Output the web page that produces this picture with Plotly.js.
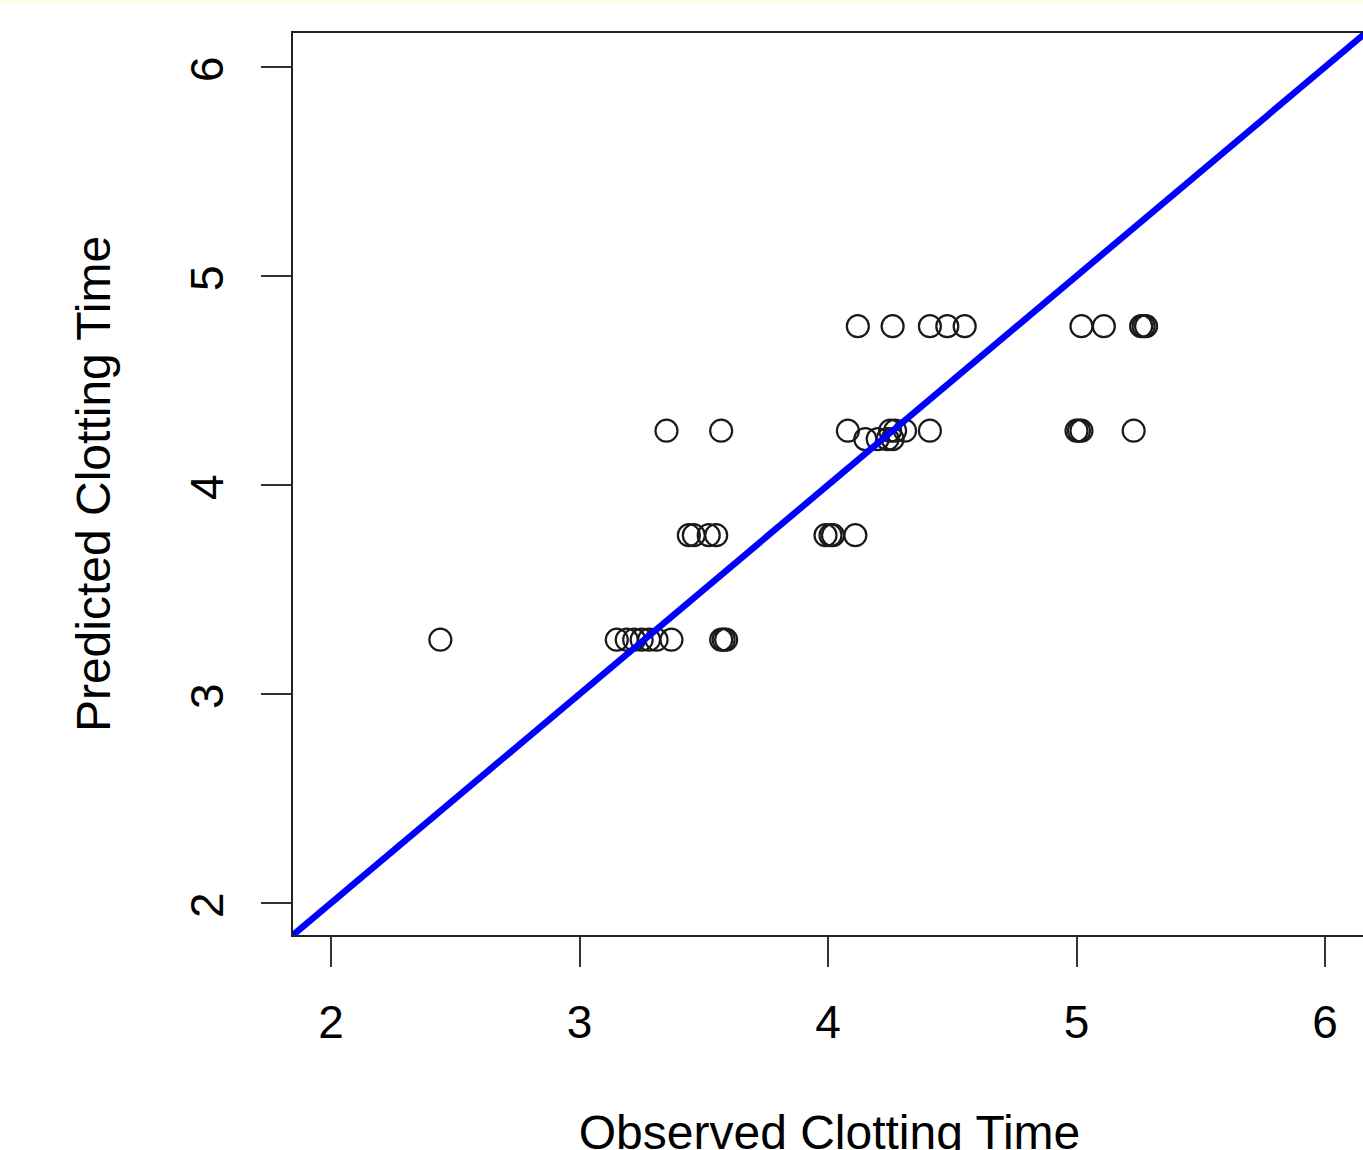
<!DOCTYPE html>
<html>
<head>
<meta charset="utf-8">
<script src="https://cdn.plot.ly/plotly-3.0.1.min.js"></script>
<style>
  html, body { margin: 0; padding: 0; background: #ffffff; overflow: hidden; }
  #topstrip { position: absolute; left: 0; top: 0; width: 1363px; height: 4px; background: #fdfbe4; z-index: 5; }
  #chart { position: absolute; left: 0; top: 0; }
</style>
</head>
<body>
<div id="topstrip"></div>
<div id="chart"></div>
<script>
// Observed vs predicted clotting times
const observed = [
  2.44, 3.15, 3.19, 3.22, 3.25, 3.28, 3.31, 3.37, 3.57, 3.58, 3.59,
  3.44, 3.46, 3.52, 3.55, 3.99, 4.01, 4.02, 4.11,
  3.35, 3.57, 4.08, 4.25, 4.27, 4.31, 4.41, 5.00, 5.01, 5.02, 5.23,
  4.15, 4.20, 4.24, 4.26,
  4.12, 4.26, 4.41, 4.48, 4.55, 5.02, 5.11, 5.26, 5.27, 5.28
];
const predicted = [
  3.26, 3.26, 3.26, 3.26, 3.26, 3.26, 3.26, 3.26, 3.26, 3.26, 3.26,
  3.76, 3.76, 3.76, 3.76, 3.76, 3.76, 3.76, 3.76,
  4.26, 4.26, 4.26, 4.26, 4.26, 4.26, 4.26, 4.26, 4.26, 4.26, 4.26,
  4.22, 4.22, 4.22, 4.22,
  4.76, 4.76, 4.76, 4.76, 4.76, 4.76, 4.76, 4.76, 4.76, 4.76
];
// identity reference line y = x
const identityLine = [1.5, 6.5];
const tickValues = [2, 3, 4, 5, 6];
const tickLabels = ["2", "3", "4", "5", "6"];
const xTitle = "Observed Clotting Time";
const yTitle = "Predicted Clotting Time";

const font = "Liberation Sans, Arial, sans-serif";

const traces = [
  {
    x: observed, y: predicted,
    type: "scatter", mode: "markers",
    marker: { symbol: "circle-open", size: 22, color: "#1a1a1a", line: { width: 2.2, color: "#1a1a1a" } },
    hoverinfo: "x+y", showlegend: false
  },
  {
    x: identityLine, y: identityLine,
    type: "scatter", mode: "lines",
    line: { color: "#0000ff", width: 6.5 },
    hoverinfo: "skip", showlegend: false
  }
];

const layout = {
  width: 1366, height: 1180,
  margin: { l: 293, r: 0, t: 33, b: 245 },
  paper_bgcolor: "#ffffff", plot_bgcolor: "#ffffff",
  font: { family: font, color: "#000000", size: 46 },
  showlegend: false,
  xaxis: {
    range: [1.847, 6.165],
    tickvals: tickValues, ticktext: tickLabels,
    ticks: "outside", ticklen: 30, tickwidth: 2, tickcolor: "#333333",
    showline: true, mirror: true, linewidth: 2, linecolor: "#222222",
    showgrid: false, zeroline: false,
    tickfont: { family: font, size: 46, color: "#000000" },
    ticklabelstandoff: 16,
    title: { text: xTitle, font: { family: font, size: 48, color: "#000000" }, standoff: 68 },
    automargin: false
  },
  yaxis: {
    range: [1.847, 6.163],
    tickvals: tickValues, ticktext: tickLabels,
    ticks: "outside", ticklen: 30, tickwidth: 2, tickcolor: "#333333",
    showline: true, mirror: true, linewidth: 2, linecolor: "#222222",
    showgrid: false, zeroline: false,
    tickangle: -90,
    tickfont: { family: font, size: 46, color: "#000000" },
    ticklabelstandoff: 20,
    ticklabelshift: 9,
    title: { text: yTitle, font: { family: font, size: 48, color: "#000000" }, standoff: 55 },
    automargin: false
  }
};

Plotly.newPlot("chart", traces, layout, { displayModeBar: false, staticPlot: true });
</script>
</body>
</html>
